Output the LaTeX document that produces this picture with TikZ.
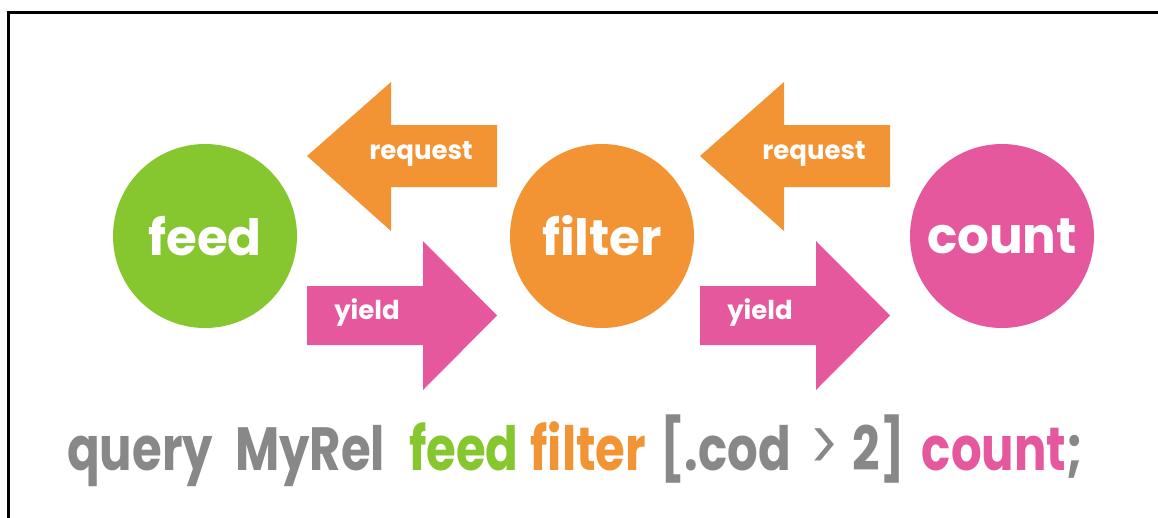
\documentclass[tikz,border=0pt]{standalone}
\usepackage{fontspec}
\setmainfont{Poppins}
\newfontfamily\qfont{Poppins}[FakeStretch=0.79]
\definecolor{cgreen}{HTML}{86C62F}
\definecolor{corange}{HTML}{F39434}
\definecolor{cpink}{HTML}{E5589D}
\definecolor{cgrey}{HTML}{888888}
\begin{document}
\begin{tikzpicture}[x=1pt,y=-1pt,
  stage/.style={circle,minimum size=184pt,inner sep=0pt,text=white,font=\bfseries\fontsize{50}{50}\selectfont},
  lbl/.style={text=white,inner sep=0pt,font=\bfseries\fontsize{26}{26}\selectfont},
  frame/.style={line width=3pt,line cap=rect}]
\useasboundingbox (0,0) rectangle (1158,517);
\draw[frame] (8,517) -- (8,12) -- (1158,12);
% stages
\node[stage,fill=cgreen] (feed) at (205,236) {feed};
\node[stage,fill=corange] (filter) at (602,236) {filter};
\node[stage,fill=cpink] (count) at (1002,236) {count};
% arrows
\foreach \dx/\n in {0/a,393/b}{
  \begin{scope}[xshift=\dx pt]
  \fill[corange] (307,156) -- (391,82) -- (391,125) -- (497,125) -- (497,187) -- (391,187) -- (391,231) -- cycle;
  \node[lbl] (req\n) at (421,154) {request};
  \fill[cpink] (307,286) -- (423,286) -- (423,241) -- (497,315.5) -- (423,390) -- (423,345) -- (307,345) -- cycle;
  \node[lbl] (yld\n) at (367,313) {yield};
  \end{scope}
}
% query line
\node[anchor=base west,inner sep=0pt,font=\qfont\bfseries\fontsize{61}{61}\selectfont] (query) at (67,470)
 {\textcolor{cgrey}{query}\hspace{22pt}\textcolor{cgrey}{MyRel}\hspace{24pt}\textcolor{cgreen}{feed}\hspace{12pt}\textcolor{corange}{filter}\hspace{14pt}\textcolor{cgrey}{[.cod\hspace{18pt}{\mdseries\scalebox{1.15}{>}}\hspace{14pt}2]}\hspace{17pt}\textcolor{cpink}{count}\textcolor{cgrey}{;}};
\end{tikzpicture}
\end{document}
